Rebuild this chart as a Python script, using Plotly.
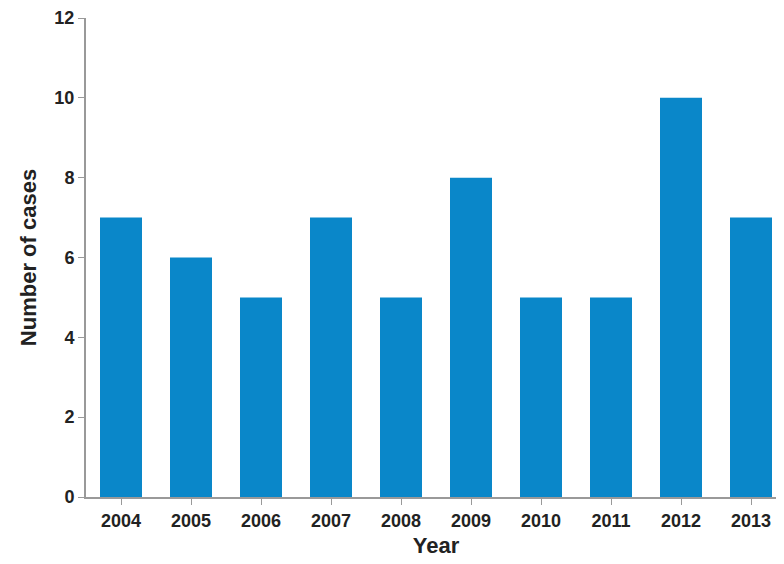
import plotly.graph_objects as go

years = ["2004", "2005", "2006", "2007", "2008", "2009", "2010", "2011", "2012", "2013"]
cases = [7, 6, 5, 7, 5, 8, 5, 5, 10, 7]

fig = go.Figure()
fig.add_trace(go.Bar(x=years, y=cases, marker_color="#0a87c9", marker_line_width=0))

tickfont = dict(family="Liberation Sans, Arial", size=18, color="#222", weight="bold")
fig.update_layout(
    width=784, height=564,
    margin=dict(l=78, r=6, t=10, b=75, autoexpand=False),
    plot_bgcolor="white", paper_bgcolor="white",
    bargap=0.4, showlegend=False,
    font=dict(family="Liberation Sans, Arial", size=17, color="#222"),
)
fig.update_xaxes(
    type="category", showline=True, linecolor="#999", linewidth=2,
    ticks="outside", tickcolor="#999", ticklen=6, automargin=False,
    tickfont=tickfont,
    title=dict(text="<b>Year</b>", font=dict(size=22), standoff=8),
)
fig.update_yaxes(
    range=[0, 12], dtick=2, showgrid=False, zeroline=False,
    showline=True, linecolor="#999", linewidth=2,
    ticks="outside", tickcolor="#999", ticklen=6, automargin=False,
    tickfont=tickfont,
    title=dict(text="<b>Number of cases</b>", font=dict(size=22), standoff=12),
)
fig.write_html("out.html")
